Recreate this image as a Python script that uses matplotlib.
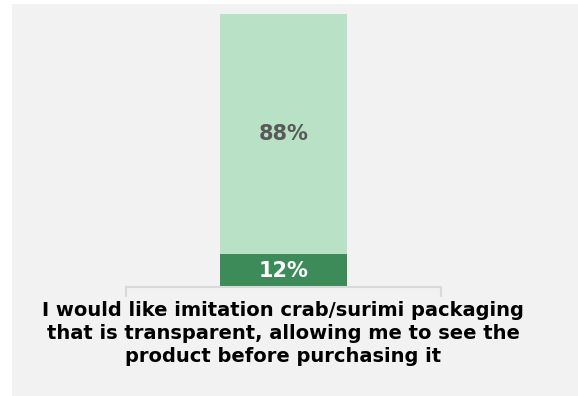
import matplotlib
matplotlib.use("Agg")
import matplotlib.pyplot as plt
from matplotlib.patches import Rectangle

# Share of respondents (percent), stacked bottom to top
categories = ["I would like imitation crab/surimi packaging\nthat is transparent, allowing me to see the\nproduct before purchasing it"]
segment_labels = ["Agree", "Other"]
segment_values = [12, 88]
segment_colors = ["#3d8b59", "#b8e1c6"]
text_colors = ["#ffffff", "#595959"]

W, H = 578, 396
fig = plt.figure(figsize=(W / 100, H / 100), dpi=100)
fig.patch.set_facecolor("white")

# Grey panel behind the chart
fig.patches.append(Rectangle((12 / W, 0), 1 - 12 / W, 1 - 4 / H,
                             transform=fig.transFigure, facecolor="#f2f2f2",
                             edgecolor="none", zorder=-1))

ax = fig.add_axes([125.7 / W, (H - 287) / H, 315.3 / W, 273 / H])
ax.set_facecolor("none")

bottom = 0
for val, col, tcol in zip(segment_values, segment_colors, text_colors):
    ax.bar([0], [val], bottom=bottom, width=0.403, color=col, edgecolor="none", zorder=2)
    ax.text(0, bottom + val / 2, f"{val}%", ha="center", va="center",
            color=tcol, fontsize=15, fontweight="bold", zorder=3)
    bottom += val

ax.set_xlim(-0.5, 0.5)
ax.set_ylim(0, sum(segment_values))
for s in ["top", "left", "right"]:
    ax.spines[s].set_visible(False)
ax.spines["bottom"].set_color("#d9d9d9")
ax.spines["bottom"].set_linewidth(1.5)
ax.set_yticks([])

ax.set_xticks([0])
ax.set_xticklabels(categories, fontsize=14, fontweight="bold", color="black",
                   linespacing=1.28)
ax.tick_params(axis="x", which="major", length=0, pad=10)
ax.set_xticks([-0.5, 0.5], minor=True)
ax.tick_params(axis="x", which="minor", length=7.5, width=1.5, color="#d9d9d9", direction="out")

fig.savefig("out.png", dpi=100, facecolor=fig.get_facecolor())
